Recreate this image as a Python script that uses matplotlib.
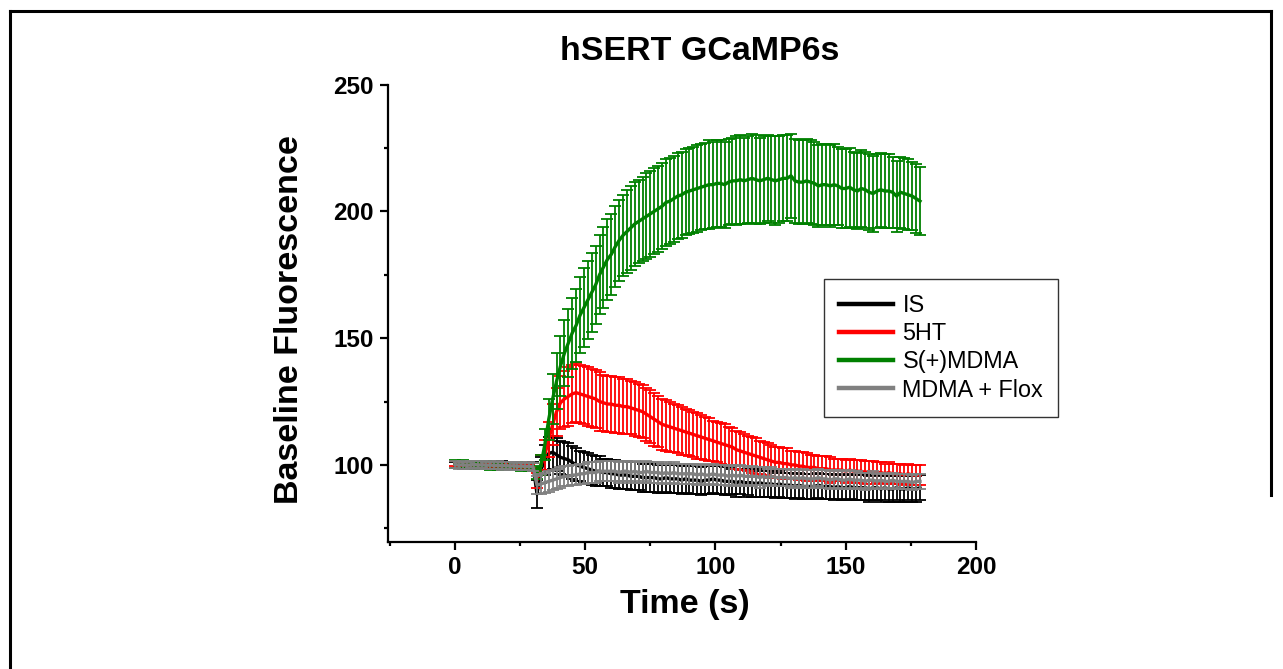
import numpy as np
import matplotlib

matplotlib.use("Agg")
import matplotlib.pyplot as plt
from matplotlib.lines import Line2D
from matplotlib.ticker import MultipleLocator

plt.rcParams["font.family"] = ["Liberation Sans", "DejaVu Sans"]

# frames were taken every 1.5 s, 120 frames in total
FRAME_INTERVAL = 1.5
N_FRAMES = 120
time_s = np.arange(N_FRAMES) * FRAME_INTERVAL

# --- IS (black) ---
is_mean = [
    99.8, 100.0, 99.7, 99.9, 100.1, 99.8, 100.0, 100.2, 99.9, 100.1,
    100.3, 100.0, 100.2, 99.9, 100.1, 99.8, 100.0, 99.7, 99.9, 99.6,
    99.8, 88.5, 98.0, 102.0, 104.5, 105.0, 104.0, 103.0, 102.5, 102.0,
    101.0, 100.0, 99.5, 99.0, 98.5, 98.0, 97.5, 97.5, 97.0, 97.0,
    96.5, 96.5, 96.0, 96.0, 96.0, 95.5, 95.5, 95.5, 95.0, 95.0,
    95.0, 95.0, 94.5, 94.5, 95.0, 94.5, 94.5, 94.5, 94.0, 94.5,
    94.0, 94.0, 94.0, 93.5, 94.0, 94.0, 94.5, 94.0, 94.0, 93.5,
    93.5, 93.5, 93.0, 93.5, 93.0, 93.0, 93.0, 92.5, 93.0, 92.5,
    92.5, 92.5, 92.0, 92.5, 92.0, 92.0, 92.0, 91.5, 92.0, 91.5,
    91.5, 91.5, 91.5, 92.0, 91.5, 91.5, 91.5, 91.0, 91.5, 91.0,
    91.0, 91.5, 91.0, 91.0, 91.0, 91.0, 90.5, 91.0, 91.0, 90.5,
    91.0, 90.5, 90.5, 91.0, 90.5, 90.5, 91.0, 90.5, 90.5, 91.0,
]
is_err = [
    1.2, 1.3, 1.2, 1.1, 1.2, 1.3, 1.2, 1.2, 1.1, 1.3,
    1.2, 1.2, 1.3, 1.1, 1.2, 1.2, 1.3, 1.2, 1.1, 1.2,
    1.2, 5.5, 5.0, 6.0, 6.5, 6.5, 6.5, 6.5, 6.5, 6.5,
    6.5, 6.5, 6.0, 6.0, 6.0, 6.0, 6.0, 6.0, 5.5, 5.5,
    5.5, 5.5, 5.5, 5.5, 5.5, 5.5, 5.5, 5.5, 5.5, 5.5,
    5.5, 5.5, 5.5, 5.5, 5.5, 5.5, 5.5, 5.5, 5.5, 5.5,
    5.5, 5.5, 5.5, 5.5, 5.5, 5.5, 5.5, 5.5, 5.5, 5.5,
    5.5, 5.0, 5.5, 5.0, 5.5, 5.0, 5.5, 5.0, 5.5, 5.0,
    5.0, 5.0, 5.0, 5.0, 5.0, 5.0, 5.0, 5.0, 5.0, 5.0,
    5.0, 5.0, 5.0, 5.0, 5.0, 5.0, 5.0, 5.0, 5.0, 5.0,
    5.0, 5.0, 5.0, 5.0, 5.0, 5.0, 5.0, 5.0, 5.0, 5.0,
    5.0, 5.0, 5.0, 5.0, 5.0, 5.0, 5.0, 5.0, 5.0, 5.0,
]

# --- 5HT (red) ---
ht_mean = [
    100.4, 100.1, 100.3, 100.0, 100.2, 100.0, 100.1, 99.8, 100.0, 99.7,
    99.9, 99.8, 100.0, 99.7, 99.8, 99.6, 99.9, 99.5, 99.7, 99.4,
    99.6, 94.0, 100.0, 104.0, 110.0, 116.0, 121.0, 124.5, 126.0, 127.0,
    128.0, 128.5, 128.0, 127.5, 127.0, 126.5, 126.0, 125.0, 124.5, 124.0,
    124.0, 123.5, 123.5, 123.0, 123.0, 122.5, 122.0, 121.5, 121.0, 120.0,
    119.0, 118.0, 117.0, 116.0, 115.5, 115.0, 114.5, 114.0, 113.5, 113.0,
    112.5, 112.0, 111.5, 111.0, 110.5, 110.0, 109.5, 109.0, 108.5, 108.0,
    107.5, 107.0, 106.0, 105.5, 105.0, 104.5, 104.0, 103.5, 103.0, 102.5,
    102.0, 101.5, 101.0, 101.0, 100.5, 100.5, 100.0, 100.0, 99.5, 99.5,
    99.0, 99.0, 99.0, 98.5, 98.5, 98.5, 98.0, 98.0, 98.0, 98.0,
    97.5, 98.0, 97.5, 97.5, 97.5, 97.0, 97.5, 97.0, 97.0, 97.0,
    96.5, 97.0, 96.5, 96.5, 96.5, 96.0, 96.5, 96.0, 96.0, 96.0,
]
ht_err = [
    1.0, 1.1, 0.9, 1.0, 1.0, 1.1, 0.9, 1.0, 1.0, 1.1,
    1.0, 0.9, 1.0, 1.1, 1.0, 1.0, 0.9, 1.0, 1.1, 1.0,
    1.0, 3.0, 4.0, 6.0, 7.0, 8.0, 9.5, 10.5, 11.0, 11.5,
    11.5, 11.5, 11.5, 11.5, 11.5, 11.5, 11.5, 11.5, 11.0, 11.0,
    11.0, 11.0, 11.0, 11.0, 11.0, 10.5, 10.5, 10.5, 10.5, 10.5,
    10.5, 10.5, 10.0, 10.0, 10.0, 10.0, 9.5, 9.5, 9.5, 9.0,
    9.0, 9.0, 9.0, 8.5, 8.5, 8.5, 8.0, 8.0, 8.0, 8.0,
    7.5, 7.5, 7.5, 7.5, 7.0, 7.0, 7.0, 7.0, 6.5, 6.5,
    6.5, 6.5, 6.0, 6.0, 6.0, 6.0, 5.5, 5.5, 5.5, 5.5,
    5.5, 5.0, 5.0, 5.0, 5.0, 5.0, 5.0, 4.5, 4.5, 4.5,
    4.5, 4.5, 4.5, 4.5, 4.5, 4.5, 4.0, 4.5, 4.0, 4.0,
    4.0, 4.0, 4.0, 4.0, 4.0, 4.0, 4.0, 4.0, 4.0, 4.0,
]

# --- S(+)MDMA (green) ---
smdma_mean = [
    100.3, 100.0, 100.2, 99.9, 100.1, 99.8, 100.0, 99.7, 99.9, 99.6,
    99.8, 99.5, 99.7, 99.4, 99.5, 99.3, 99.4, 99.2, 99.3, 99.0,
    99.1, 97.0, 100.0, 108.0, 118.0, 126.0, 133.0, 139.0, 144.0, 148.0,
    152.0, 155.0, 159.0, 162.0, 165.0, 168.0, 171.0, 175.0, 178.0, 181.0,
    183.0, 186.0, 188.5, 190.5, 192.0, 193.5, 195.0, 196.0, 197.0, 198.0,
    199.0, 200.0, 201.0, 202.0, 203.5, 204.0, 205.0, 206.0, 206.5, 207.5,
    208.0, 208.5, 209.0, 209.5, 210.0, 210.5, 210.5, 211.0, 211.0, 210.5,
    211.5, 212.0, 212.0, 212.5, 212.0, 212.5, 213.0, 212.5, 212.0, 212.5,
    213.0, 212.5, 212.0, 212.5, 213.0, 213.0, 214.0, 212.0, 211.5, 211.5,
    212.0, 211.5, 211.0, 210.0, 210.5, 210.5, 210.0, 210.5, 210.0, 209.0,
    209.0, 209.5, 208.5, 208.0, 209.0, 208.5, 207.5, 207.0, 208.0, 208.5,
    208.0, 208.0, 207.5, 206.0, 207.5, 207.0, 206.5, 206.0, 205.0, 204.0,
]
smdma_err = [
    1.5, 1.4, 1.6, 1.5, 1.5, 1.4, 1.6, 1.5, 1.5, 1.6,
    1.5, 1.4, 1.5, 1.6, 1.5, 1.5, 1.6, 1.5, 1.5, 1.6,
    1.6, 2.5, 4.0, 6.0, 8.0, 10.0, 11.0, 12.0, 13.0, 13.5,
    14.0, 14.5, 15.0, 15.5, 15.5, 15.5, 15.5, 15.5, 16.0, 16.0,
    16.0, 16.0, 16.0, 16.0, 16.5, 16.5, 16.5, 16.5, 16.5, 17.0,
    17.0, 17.0, 17.0, 17.0, 17.0, 17.0, 17.0, 17.0, 17.0, 17.0,
    17.0, 17.0, 17.0, 17.0, 17.0, 17.5, 17.0, 17.0, 17.0, 17.0,
    17.0, 17.0, 17.5, 17.5, 17.0, 17.0, 17.5, 17.5, 17.0, 17.0,
    17.0, 17.0, 17.5, 17.0, 17.0, 17.0, 16.5, 16.5, 16.5, 16.5,
    16.5, 16.5, 16.5, 16.0, 16.0, 16.0, 16.0, 16.0, 15.5, 15.5,
    15.5, 15.5, 15.0, 15.0, 15.0, 15.0, 15.0, 15.0, 14.5, 14.5,
    14.5, 14.5, 14.0, 14.0, 14.0, 14.0, 14.0, 13.5, 13.5, 13.5,
]

# --- MDMA + Flox (gray) ---
flox_mean = [
    100.2, 99.9, 100.1, 99.8, 100.0, 100.2, 99.9, 100.1, 99.8, 100.0,
    99.7, 99.9, 99.6, 99.8, 99.5, 99.7, 99.4, 99.6, 99.3, 99.5,
    99.2, 92.0, 92.5, 93.0, 93.5, 94.0, 94.5, 95.0, 95.5, 95.5,
    96.0, 96.0, 96.5, 96.5, 97.0, 97.0, 97.0, 97.5, 97.5, 97.5,
    97.5, 97.5, 97.0, 97.5, 97.5, 97.0, 97.5, 97.0, 97.0, 97.5,
    97.0, 97.0, 97.0, 96.5, 97.0, 96.5, 97.0, 96.5, 96.5, 96.5,
    96.5, 96.5, 96.0, 96.5, 96.0, 96.0, 96.5, 96.0, 96.0, 96.0,
    95.5, 96.0, 95.5, 96.0, 95.5, 95.5, 95.5, 95.5, 95.0, 95.5,
    95.0, 95.5, 95.0, 95.0, 95.0, 95.0, 94.5, 95.0, 94.5, 95.0,
    94.5, 94.5, 94.5, 95.0, 94.5, 94.5, 94.0, 94.5, 94.5, 94.0,
    94.0, 94.5, 94.0, 94.0, 94.0, 93.5, 94.0, 94.0, 93.5, 94.0,
    93.5, 93.5, 94.0, 93.5, 93.5, 93.5, 93.5, 93.0, 93.5, 93.5,
]
flox_err = [
    1.5, 1.4, 1.6, 1.5, 1.4, 1.5, 1.6, 1.5, 1.4, 1.5,
    1.5, 1.6, 1.5, 1.4, 1.5, 1.6, 1.5, 1.5, 1.4, 1.5,
    1.5, 3.5, 4.0, 4.0, 4.0, 4.0, 4.0, 4.0, 4.0, 4.0,
    4.0, 4.0, 4.0, 4.0, 4.0, 4.0, 4.0, 4.0, 4.0, 4.0,
    4.0, 4.0, 4.0, 4.0, 4.0, 4.0, 4.0, 4.0, 4.0, 4.0,
    4.0, 4.0, 4.0, 4.0, 4.0, 4.0, 4.0, 4.0, 4.0, 4.0,
    4.0, 4.0, 4.0, 4.0, 4.0, 4.0, 4.0, 4.0, 4.0, 4.0,
    4.0, 4.0, 4.0, 4.0, 4.0, 3.5, 4.0, 3.5, 4.0, 3.5,
    3.5, 3.5, 3.5, 3.5, 3.5, 3.5, 3.5, 3.5, 3.5, 3.5,
    3.5, 3.5, 3.5, 3.5, 3.5, 3.5, 3.5, 3.5, 3.5, 3.5,
    3.5, 3.5, 3.5, 3.5, 3.0, 3.5, 3.0, 3.5, 3.0, 3.0,
    3.0, 3.0, 3.0, 3.0, 3.0, 3.0, 3.0, 3.0, 3.0, 3.0,
]

series = [
    ("IS", is_mean, is_err, "#000000"),
    ("5HT", ht_mean, ht_err, "#ff0000"),
    ("S(+)MDMA", smdma_mean, smdma_err, "#008000"),
    ("MDMA + Flox", flox_mean, flox_err, "#808080"),
]

W, H = 1283, 669
fig = plt.figure(figsize=(W / 100, H / 100), dpi=100)
ax = fig.add_axes([388 / W, 1 - 542 / H, (976 - 388) / W, (542 - 84.5) / H])

for label, mean, err, colour in series:
    ax.errorbar(time_s, mean, yerr=err, fmt="none", ecolor=colour,
                elinewidth=1.3, capsize=4, capthick=1.3)
    ax.plot(time_s, mean, color=colour, lw=2.4, label=label)

ax.set_xlim(-25.7, 200)
ax.set_ylim(69.6, 250)
ax.xaxis.set_major_locator(MultipleLocator(50))
ax.xaxis.set_minor_locator(MultipleLocator(25))
ax.yaxis.set_major_locator(MultipleLocator(50))
ax.yaxis.set_minor_locator(MultipleLocator(25))

for side in ["top", "right"]:
    ax.spines[side].set_visible(False)
for side in ["left", "bottom"]:
    ax.spines[side].set_linewidth(1.6)

ax.tick_params(which="major", direction="out", length=6, width=1.6, pad=4,
               labelsize=17.5)
ax.tick_params(which="minor", direction="out", length=3, width=1.6)
for lab in ax.get_xticklabels() + ax.get_yticklabels():
    lab.set_fontweight("bold")

leg = ax.legend(loc="upper left", bbox_to_anchor=(0.742, 0.575),
                borderaxespad=0, frameon=True, fancybox=False,
                fontsize=16.8, handlelength=2.3, handletextpad=0.4,
                labelspacing=0.22, borderpad=0.65)
leg.get_frame().set_edgecolor("black")
leg.get_frame().set_linewidth(1.0)
for line in leg.get_lines():
    line.set_linewidth(3.2)

fig.text(700 / W, 1 - 51 / H, "hSERT GCaMP6s", ha="center", va="center",
         fontsize=24.5, fontweight="bold")
fig.text(290 / W, 1 - 320 / H, "Baseline Fluorescence", ha="center",
         va="center", rotation=90, fontsize=24.5, fontweight="bold")
fig.text(685 / W, 1 - 604 / H, "Time (s)", ha="center", va="center",
         fontsize=24.5, fontweight="bold")

# outer frame (left, top and the visible part of the right side)
frame_kw = dict(color="black", lw=2.2, transform=fig.transFigure)
fig.add_artist(Line2D([10 / W, 10 / W], [0, 1 - 11 / H], **frame_kw))
fig.add_artist(Line2D([10 / W, 1271 / W], [1 - 11 / H, 1 - 11 / H], **frame_kw))
fig.add_artist(Line2D([1271 / W, 1271 / W], [1 - 11 / H, 1 - 495 / H], **frame_kw))

fig.savefig("out.png", dpi=100)
